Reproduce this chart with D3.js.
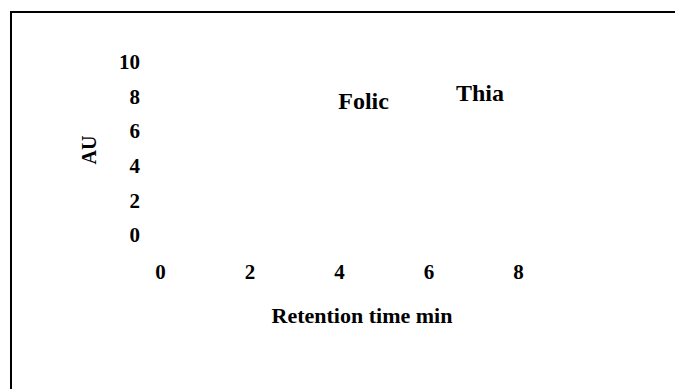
<!DOCTYPE html>
<html><head><meta charset="utf-8">
<script src="https://cdn.jsdelivr.net/npm/d3@7"></script>
<style>
html,body{margin:0;padding:0;background:#fff;}
svg{display:block;}
text{font-family:"Liberation Serif","Times New Roman",serif;font-weight:bold;fill:#000;}
</style></head>
<body>
<script>
const xTicks = [0, 2, 4, 6, 8];
const yTicks = [0, 2, 4, 6, 8, 10];
const peakLabels = ["Folic", "Thia"];
const peakTimes = [4.55, 7.15];
const peakHeights = [7.7, 8.2];
const xTitle = "Retention time min";
const yTitle = "AU";

const W = 675, H = 389;
const svg = d3.select("body").append("svg").attr("width", W).attr("height", H);

svg.append("rect").attr("x", 11).attr("y", 12).attr("width", W + 10).attr("height", H + 10)
  .attr("fill", "none").attr("stroke", "#000").attr("stroke-width", 2);

const x = d3.scaleLinear().domain([0, 8]).range([160, 518]);
const y = d3.scaleLinear().domain([0, 10]).range([235, 61.7]);

const yAxis = svg.append("g").attr("transform", "translate(140,0)")
  .call(d3.axisLeft(y).tickValues(yTicks).tickSize(0).tickPadding(0));
yAxis.select(".domain").remove();
yAxis.selectAll("text").attr("font-size", 21).attr("dy", "0.33em")
  .style("font-family", '"Liberation Serif",serif').style("font-weight", "bold");

const xAxis = svg.append("g").attr("transform", "translate(0,272)")
  .call(d3.axisBottom(x).tickValues(xTicks).tickSize(0).tickPadding(0));
xAxis.select(".domain").remove();
xAxis.selectAll("text").attr("font-size", 21).attr("dy", "0.33em")
  .style("font-family", '"Liberation Serif",serif').style("font-weight", "bold");

svg.append("text").attr("x", 362).attr("y", 322.7)
  .attr("text-anchor", "middle").attr("font-size", 22).text(xTitle);

svg.append("text").attr("transform", "translate(89,150) rotate(-90)").attr("dy", "0.35em")
  .attr("text-anchor", "middle").attr("font-size", 20).text(yTitle);

svg.selectAll(".peak").data(peakLabels).enter().append("text").attr("class", "peak")
  .attr("x", (d, i) => x(peakTimes[i])).attr("y", (d, i) => y(peakHeights[i]))
  .attr("dy", "0.33em").attr("text-anchor", "middle").attr("font-size", 24).text(d => d);
</script>
</body></html>
